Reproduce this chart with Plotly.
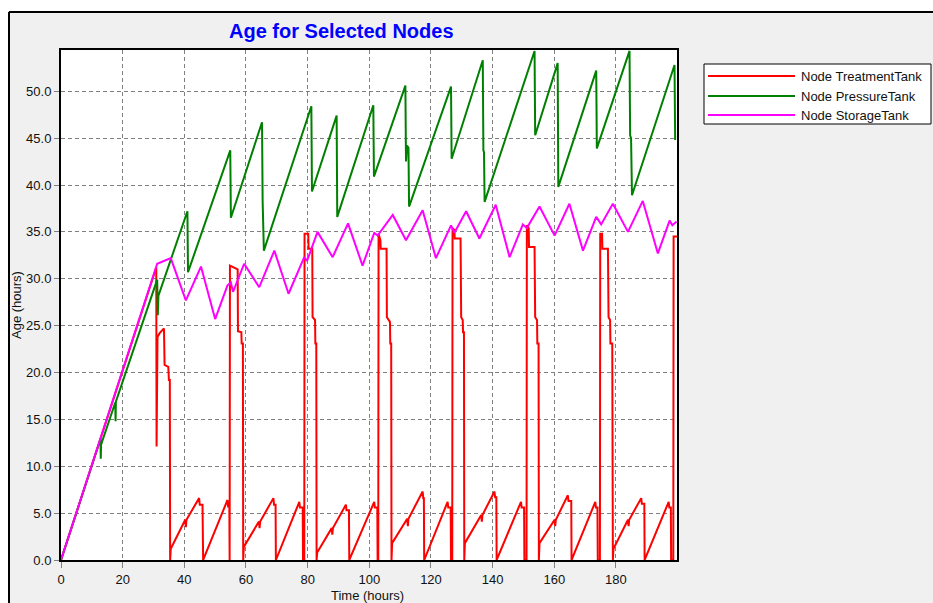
import plotly.graph_objects as go

# ---------------- data ----------------
series_names = ["Node TreatmentTank", "Node PressureTank", "Node StorageTank"]
series_colors = ["#ff0000", "#008000", "#ff00ff"]

x_ticks = [0, 20, 40, 60, 80, 100, 120, 140, 160, 180]
y_ticks = [0, 5, 10, 15, 20, 25, 30, 35, 40, 45, 50]

# Node TreatmentTank (time in hours, age in hours)
treat_t = [0, 30.9, 31.0, 31.1, 31.2, 31.3, 32.0, 33.4, 33.6, 34.8, 35.0, 35.3, 35.4, 35.6,
           40.3, 40.5, 40.7, 44.8, 45.0, 45.9, 46.1, 54.0, 54.2, 54.6, 54.7, 54.8, 57.3, 57.4,
           58.5, 58.6, 59.0, 59.1, 59.3, 64.2, 64.4, 64.6, 68.9, 69.1, 69.6, 69.7, 77.3, 77.5,
           78.4, 78.5, 78.9, 79.0, 80.2, 80.3, 81.5, 81.6, 82.4, 82.5, 82.8, 82.9, 83.1, 87.8,
           88.0, 88.2, 92.4, 92.6, 93.4, 93.5, 101.6, 101.8, 102.6, 102.7, 102.9, 103.0, 103.6,
           103.7, 105.6, 105.7, 106.7, 106.8, 107.1, 107.2, 107.4, 112.3, 112.5, 112.7, 117.3,
           117.5, 117.7, 117.8, 125.4, 125.6, 126.4, 126.5, 126.9, 127.0, 127.6, 127.7, 129.6,
           129.8, 130.3, 130.4, 130.7, 130.8, 131.0, 136.3, 136.5, 136.7, 140.6, 140.8, 141.2,
           141.3, 149.2, 149.4, 150.2, 150.3, 151.0, 151.1, 151.7, 151.8, 153.6, 153.8, 154.4,
           154.5, 154.9, 155.0, 155.2, 160.1, 160.3, 160.5, 164.4, 164.6, 165.5, 165.6, 173.3,
           173.5, 174.0, 174.1, 174.8, 174.9, 175.5, 175.6, 177.4, 177.6, 178.1, 178.2, 178.8,
           179.0, 179.2, 183.9, 184.1, 184.3, 188.2, 188.4, 189.2, 189.3, 197.1, 197.3, 197.8,
           197.9, 198.6, 198.7, 199.8]
treat_v = [0, 31.2, 12.1, 16.2, 16.2, 23.8, 24.2, 24.7, 20.8, 20.6, 19.2, 19.2, 0.0, 1.2,
           4.3, 3.5, 4.3, 6.6, 5.9, 5.9, 0.0, 6.4, 5.7, 5.7, 0.0, 31.4, 31.0, 24.4,
           24.3, 23.1, 23.1, 0.0, 1.4, 4.1, 3.4, 4.1, 6.6, 5.9, 5.9, 0.0, 6.2, 5.6,
           5.6, 0.0, 0.0, 34.8, 34.8, 33.2, 33.2, 25.9, 25.6, 23.1, 23.1, 0.0, 0.8, 3.4,
           2.7, 3.4, 5.9, 5.3, 5.3, 0.0, 6.2, 5.6, 5.6, 0.0, 0.0, 34.8, 34.1,
           33.2, 33.2, 25.9, 25.4, 23.1, 23.1, 0.0, 1.8, 4.4, 3.6, 4.4, 7.3,
           6.6, 6.6, 0.0, 6.2, 5.6, 5.6, 0.0, 0.0, 35.4, 35.2, 34.3, 34.3,
           25.9, 25.6, 24.3, 24.3, 0.0, 1.8, 4.8, 4.1, 4.8, 7.3, 6.7, 6.7,
           0.0, 6.2, 5.6, 5.6, 0.0, 0.0, 35.7, 35.4, 33.4, 33.4, 25.9, 25.6,
           23.1, 23.1, 0.0, 1.8, 4.3, 3.6, 4.3, 6.9, 6.3, 6.3, 0.0, 6.2,
           5.6, 5.6, 0.0, 0.0, 34.8, 34.8, 33.2, 33.2, 25.9, 25.6, 23.1, 23.1,
           0.0, 1.2, 4.3, 3.6, 4.3, 6.6, 6.0, 6.0, 0.0, 6.2, 5.6, 5.6,
           0.0, 0.0, 34.5, 34.5]

# Node PressureTank
press_t = [0, 12.8, 12.9, 13.0, 17.6, 17.7, 17.8, 31.2, 31.4, 31.6, 41.0, 41.2, 54.9, 55.1,
           65.2, 65.4, 65.8, 81.2, 81.4, 89.4, 89.6, 101.3, 101.5, 111.7, 111.9, 112.2, 112.7,
           112.9, 126.5, 126.7, 136.8, 137.0, 137.2, 137.4, 153.6, 153.8, 161.1, 161.3, 173.6,
           173.8, 184.4, 184.6, 184.9, 185.2, 199.0, 199.2]
press_v = [0, 12.9, 10.8, 12.3, 16.8, 14.8, 16.9, 29.9, 26.1, 28.2, 37.2, 30.7, 43.7, 36.5,
           46.7, 38.3, 33.0, 48.4, 39.3, 47.4, 36.6, 48.5, 40.9, 50.6, 42.5, 44.2, 44.0,
           37.7, 50.5, 42.8, 53.3, 43.7, 43.5, 38.2, 54.3, 45.3, 53.0, 39.8, 52.2,
           43.9, 54.3, 45.3, 45.0, 38.9, 52.8, 44.8]

# Node StorageTank
store_t = [0, 31.2, 35.6, 40.5, 45.4, 50.0, 54.0, 55.1, 55.8, 59.4, 64.3, 69.2, 73.8, 78.9,
           79.8, 83.2, 88.1, 93.1, 97.8, 101.6, 102.7, 107.6, 111.9, 117.3, 121.6, 126.5,
           127.6, 131.4, 135.7, 141.0, 145.5, 149.8, 151.1, 155.2, 160.1, 164.9, 169.3, 173.6,
           175.2, 179.0, 183.9, 188.7, 193.6, 197.4, 198.3, 199.7]
store_v = [0, 31.6, 32.2, 27.7, 31.3, 25.7, 29.3, 29.6, 28.6, 31.6, 29.1, 33.0, 28.4, 32.3,
           31.9, 35.0, 32.3, 35.9, 31.4, 34.9, 34.6, 36.8, 34.1, 37.3, 32.2, 35.7,
           34.9, 37.2, 34.3, 37.9, 32.3, 35.8, 35.4, 37.7, 34.6, 38.0, 33.0, 36.6,
           35.8, 38.0, 35.0, 38.3, 32.7, 36.2, 35.7, 36.1]

# ---------------- layout geometry (page pixels) ----------------
W, H = 933, 603
L, T, R, B = 61, 50, 677, 560  # plot area in page pixels


def px(x):
    return (x - L) / (R - L)


def py(y):
    return (B - y) / (B - T)


FONT = "Liberation Sans, Arial, sans-serif"

fig = go.Figure()
for t, v, name, col in [(treat_t, treat_v, series_names[0], series_colors[0]),
                        (press_t, press_v, series_names[1], series_colors[1]),
                        (store_t, store_v, series_names[2], series_colors[2])]:
    fig.add_trace(go.Scatter(x=t, y=v, mode="lines", name=name,
                             line=dict(color=col, width=2), showlegend=False))

shapes = []
# white strips outside the chart frame
shapes.append(dict(type="rect", xref="paper", yref="paper", x0=px(0), x1=px(W), y0=py(11), y1=py(0),
                   fillcolor="white", line=dict(width=0), layer="below"))
shapes.append(dict(type="rect", xref="paper", yref="paper", x0=px(0), x1=px(8), y0=py(H), y1=py(0),
                   fillcolor="white", line=dict(width=0), layer="below"))
# black frame lines
shapes.append(dict(type="line", xref="paper", yref="paper", x0=px(9), x1=px(W), y0=py(12), y1=py(12),
                   line=dict(color="black", width=2)))
shapes.append(dict(type="line", xref="paper", yref="paper", x0=px(9), x1=px(9), y0=py(12), y1=py(H),
                   line=dict(color="black", width=2)))
# custom legend box
shapes.append(dict(type="rect", xref="paper", yref="paper", x0=px(704), x1=px(931), y0=py(124), y1=py(64),
                   fillcolor="white", line=dict(color="black", width=1)))
annotations = []
rows = [76, 96, 115]
for name, col, yy in zip(series_names, series_colors, rows):
    shapes.append(dict(type="line", xref="paper", yref="paper", x0=px(708), x1=px(795), y0=py(yy), y1=py(yy),
                       line=dict(color=col, width=2)))
    annotations.append(dict(text=name, xref="paper", yref="paper", x=px(799), y=py(yy),
                            xanchor="left", yanchor="middle", showarrow=False,
                            font=dict(family=FONT, size=13, color="#111111")))

# title and axis titles
annotations.append(dict(text="<b>Age for Selected Nodes</b>", xref="paper", yref="paper",
                        x=px(341), y=py(31), xanchor="center", yanchor="middle", showarrow=False,
                        font=dict(family=FONT, size=20, color="#0000ff")))
annotations.append(dict(text="Time (hours)", xref="paper", yref="paper",
                        x=px(367), y=py(595), xanchor="center", yanchor="middle", showarrow=False,
                        font=dict(family=FONT, size=13, color="#111111")))
annotations.append(dict(text="Age (hours)", xref="paper", yref="paper", textangle=-90,
                        x=px(16), y=py(305), xanchor="center", yanchor="middle", showarrow=False,
                        font=dict(family=FONT, size=13, color="#111111")))

fig.update_layout(
    width=W, height=H,
    margin=dict(l=L, r=W - R, t=T, b=H - B, pad=0),
    paper_bgcolor="#f0f0f0",
    plot_bgcolor="white",
    showlegend=False,
    shapes=shapes,
    annotations=annotations,
    font=dict(family=FONT, size=13, color="#111111"),
)
fig.update_xaxes(range=[0, 199.8], tickvals=x_ticks, ticktext=[str(v) for v in x_ticks],
                 showgrid=True, gridcolor="#808080", gridwidth=1, griddash="4px,3px",
                 showline=True, linecolor="black", linewidth=2, mirror=True,
                 ticks="outside", ticklen=6, tickcolor="#808080", zeroline=False,
                 tickfont=dict(family=FONT, size=13, color="#111111"))
fig.update_yaxes(range=[0, 54.4], tickvals=y_ticks, ticktext=[f"{v:.1f}" for v in y_ticks],
                 showgrid=True, gridcolor="#808080", gridwidth=1, griddash="4px,3px",
                 showline=True, linecolor="black", linewidth=2, mirror=True,
                 ticks="outside", ticklen=5, tickcolor="#808080", zeroline=False,
                 tickfont=dict(family=FONT, size=13, color="#111111"))

# remove the browser's default page margin so the 933x603 figure fills the window exactly
fig.write_html("out.html",
               config={"displayModeBar": False},
               post_script="document.body.style.margin='0px';document.body.style.overflow='hidden';")
